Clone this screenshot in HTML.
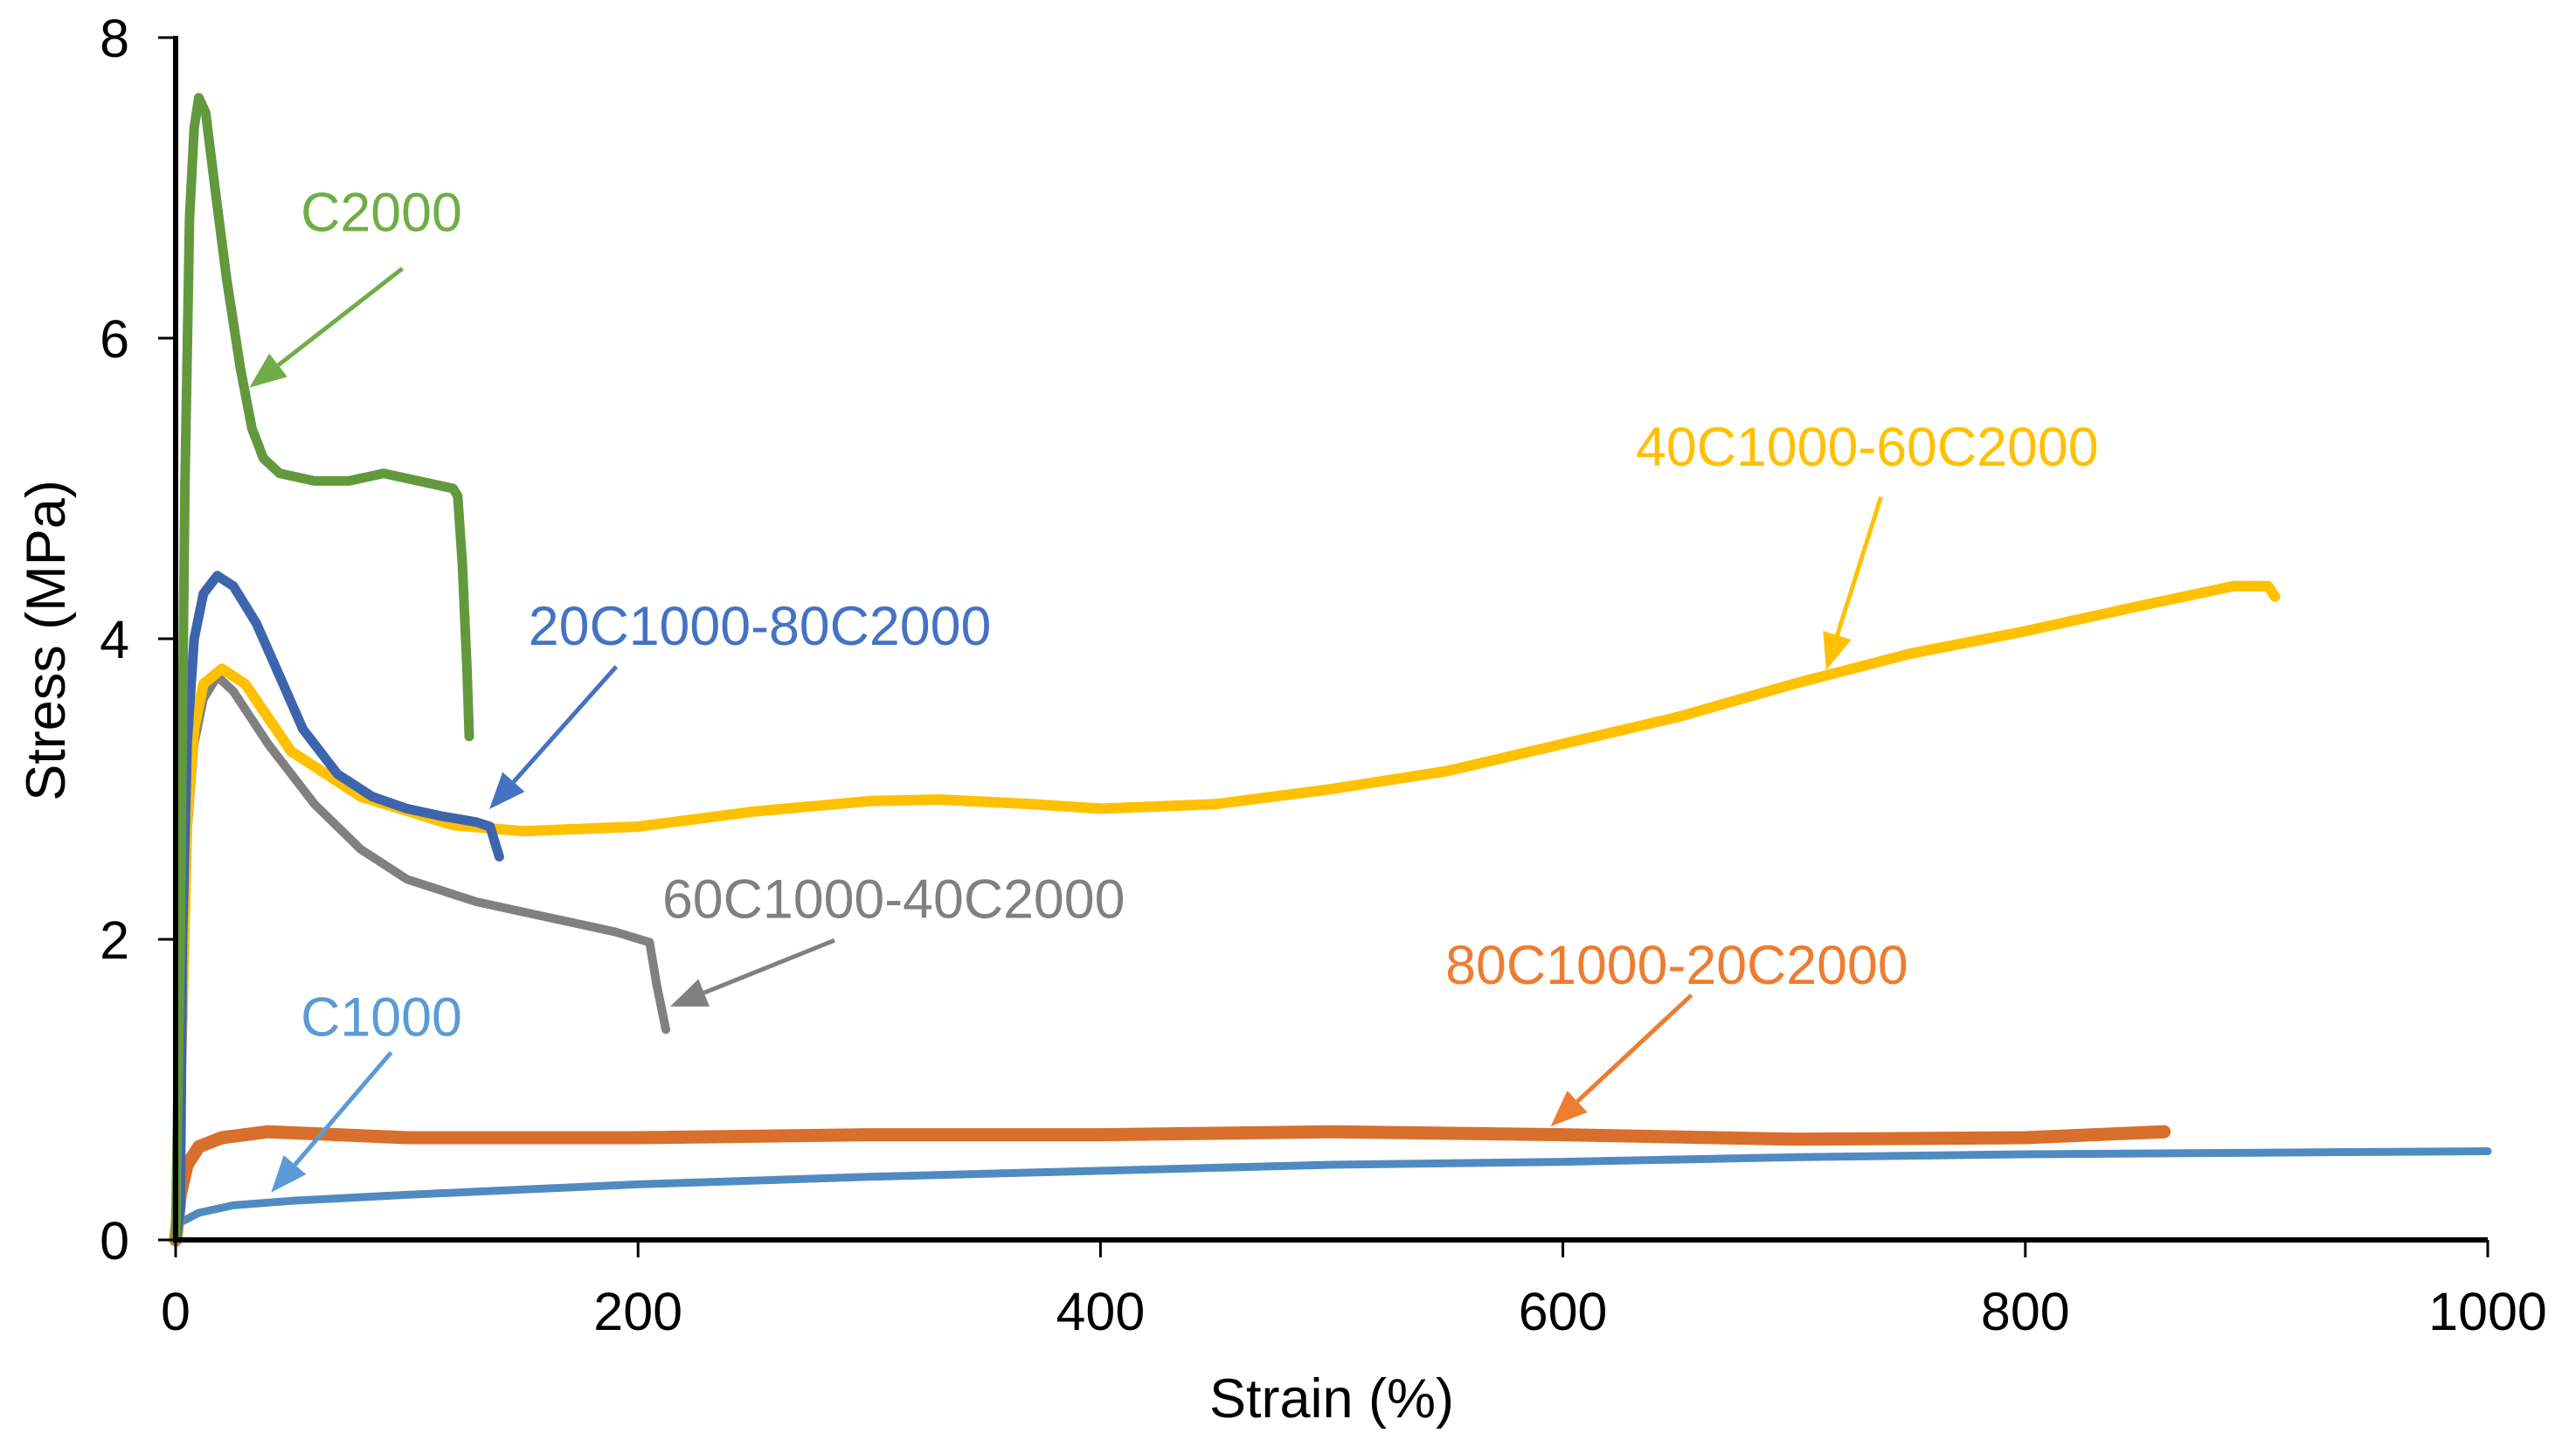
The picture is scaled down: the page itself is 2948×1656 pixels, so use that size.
<!DOCTYPE html>
<html><head><meta charset="utf-8">
<style>
html,body{margin:0;padding:0;background:#fff;}
svg{display:block;}
text{font-family:"Liberation Sans",sans-serif;}
</style></head>
<body>
<svg id="chart" width="2948" height="1656" viewBox="0 0 2948 1656" xmlns="http://www.w3.org/2000/svg">
<g id="series"></g>
<g id="axes"></g>
<g id="notes" transform="translate(0,-8) scale(0.9947)"></g>
</svg>
<script>
const xTicks = [0, 200, 400, 600, 800, 1000];
const yTicks = [0, 2, 4, 6, 8];
const c2000X = [0,2,4,6,8,10,13,17,22,28,33,38,45,60,75,90,105,120,122,124,126,127];
const c2000Y = [0,2,5,6.8,7.4,7.6,7.5,7.0,6.4,5.8,5.4,5.2,5.1,5.05,5.05,5.1,5.05,5.0,4.95,4.5,3.8,3.35];
const s20X = [0,2,3,5,8,12,18,25,35,45,55,70,85,100,115,130,136,138,140];
const s20Y = [0,0.2,2,3.3,4.0,4.3,4.42,4.35,4.1,3.75,3.4,3.1,2.95,2.87,2.82,2.78,2.75,2.65,2.55];
const s40X = [0,3,5,8,12,20,30,50,80,120,150,200,250,300,330,370,400,450,500,550,600,650,700,750,800,850,890,905,908];
const s40Y = [0,1.5,2.8,3.4,3.7,3.8,3.7,3.25,2.95,2.76,2.72,2.75,2.85,2.92,2.93,2.9,2.87,2.9,3.0,3.12,3.3,3.48,3.7,3.9,4.05,4.22,4.35,4.35,4.28];
const s60X = [0,3,5,8,12,18,25,40,60,80,100,130,160,190,205,208,212];
const s60Y = [0,1.4,2.7,3.3,3.6,3.75,3.65,3.3,2.9,2.6,2.4,2.25,2.15,2.05,1.98,1.7,1.4];
const s80X = [0,2,5,10,20,40,100,200,300,400,500,600,700,800,860];
const s80Y = [0,0.3,0.5,0.62,0.68,0.72,0.68,0.68,0.7,0.7,0.72,0.7,0.67,0.68,0.72];
const c1000X = [0,10,25,50,100,200,300,400,500,600,700,800,900,1000];
const c1000Y = [0.1,0.18,0.23,0.26,0.3,0.37,0.42,0.46,0.5,0.52,0.55,0.57,0.58,0.59];

const X0=201, X1=2847, Y0=1419, Y1=43;
function sx(v){return X0+(X1-X0)*v/1000;}
function sy(v){return Y0+(Y1-Y0)*v/8;}
const NS="http://www.w3.org/2000/svg";
function mk(tag,attrs,parent){const e=document.createElementNS(NS,tag);for(const k in attrs)e.setAttribute(k,attrs[k]);parent.appendChild(e);return e;}

const seriesG=document.getElementById('series');
function line(xs,ys,color,w,name){
  const d=xs.map((x,i)=>(i?'L':'M')+sx(x).toFixed(1)+','+sy(ys[i]).toFixed(1)).join('');
  const p=mk('path',{d:d,fill:'none',stroke:color,'stroke-width':w,'stroke-linejoin':'round','stroke-linecap':'round'},seriesG);
  
  
}
line(c1000X,c1000Y,'#4f8bc1',9,'line-c1000');
line(s80X,s80Y,'#d86f2c',15,'line-80c1000-20c2000');
line(s60X,s60Y,'#808080',10,'line-60c1000-40c2000');
line(s40X,s40Y,'#ffc000',12,'line-40c1000-60c2000');
line(s20X,s20Y,'#3d65ad',11,'line-20c1000-80c2000');
line(c2000X,c2000Y,'#63993d',11,'line-c2000');

const ax=document.getElementById('axes');
let a=mk('line',{x1:X0,y1:Y1-2,x2:X0,y2:Y0+3,stroke:'#000','stroke-width':6},ax);


a=mk('line',{x1:X0-3,y1:Y0,x2:X1,y2:Y0,stroke:'#000','stroke-width':6},ax);


xTicks.forEach(v=>{
  const t=mk('line',{x1:sx(v),y1:Y0,x2:sx(v),y2:Y0+20,stroke:'#000','stroke-width':3},ax);
  
  
  const l=mk('text',{x:sx(v),y:1522,'font-size':61,'text-anchor':'middle',fill:'#000'},ax);
  l.textContent=v;
  
  
});
yTicks.forEach(v=>{
  const t=mk('line',{x1:X0-20,y1:sy(v),x2:X0,y2:sy(v),stroke:'#000','stroke-width':3},ax);
  
  
  const l=mk('text',{x:148,y:sy(v)+22,'font-size':61,'text-anchor':'end',fill:'#000'},ax);
  l.textContent=v;
  
  
});
let tt=mk('text',{x:1524,y:1622,'font-size':63,'text-anchor':'middle',fill:'#000'},ax);
tt.textContent='Strain (%)';


tt=mk('text',{x:0,y:0,'font-size':63,'text-anchor':'middle',fill:'#000',transform:'translate(74,733) rotate(-90)'},ax);
tt.textContent='Stress (MPa)';



const notes=document.getElementById('notes');
function note(text,tx,ty,x1,y1,x2,y2,color,name){
  const t=mk('text',{x:tx,y:ty,'font-size':63,fill:color},notes);
  t.textContent=text;
  
  
  const dx=x2-x1, dy=y2-y1, L=Math.hypot(dx,dy), ux=dx/L, uy=dy/L;
  const hl=42, hw=17;
  const bx=x2-ux*hl, by=y2-uy*hl;
  const l=mk('line',{x1:x1,y1:y1,x2:bx,y2:by,stroke:color,'stroke-width':5},notes);
  
  
  const h=mk('polygon',{points:`${x2},${y2} ${bx-uy*hw},${by+ux*hw} ${bx+uy*hw},${by-ux*hw}`,fill:color},notes);
  
  
}
note('C2000',346,274,463,317,287,454,'#70ad47','c2000');
note('20C1000-80C2000',608,750,709,775,563,939,'#4472c4','20c1000-80c2000');
note('40C1000-60C2000',1882,544,2164,580,2101,779,'#ffc000','40c1000-60c2000');
note('60C1000-40C2000',762,1064,960,1090,771,1166,'#808080','60c1000-40c2000');
note('80C1000-20C2000',1663,1140,1946,1153,1784,1304,'#ed7d31','80c1000-20c2000');
note('C1000',346,1200,450,1219,312,1380,'#5b9bd5','c1000');
</script>
</body></html>
